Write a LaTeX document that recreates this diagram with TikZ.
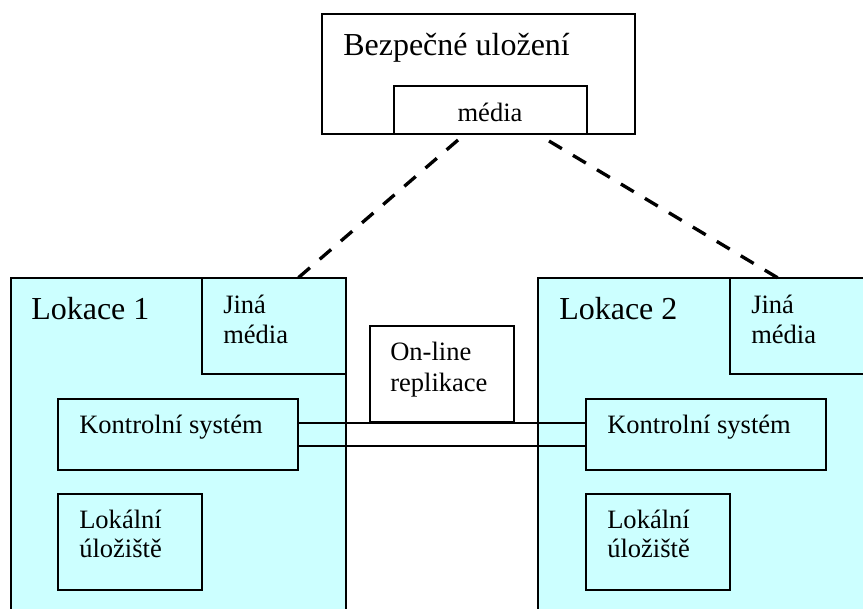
\documentclass[tikz,border=0pt]{standalone}
\usepackage{fontspec}
\setmainfont{Liberation Serif}
\usetikzlibrary{fit,calc}
\definecolor{sitefill}{HTML}{CCFFFF}
\tikzset{
  frame/.style={draw=black, line width=0.9pt, inner sep=0pt, outer sep=0pt},
  sitebox/.style={frame, fill=sitefill},
  plainbox/.style={frame, fill=white},
  bigtext/.style={anchor=base west, inner sep=0pt, font=\fontsize{24}{28}\selectfont},
  smalltext/.style={anchor=base west, inner sep=0pt, font=\fontsize{19.9}{23}\selectfont},
  offsite/.style={line width=2.5pt, dash pattern=on 11.25pt off 9.7pt},
  link/.style={draw=black, line width=0.9pt}
}
\begin{document}
\begin{tikzpicture}[x=0.75pt, y=-0.75pt]
\clip (0,0) rectangle (863,608);
\fill[white] (0,0) rectangle (863,608);

% secure storage at the top
\node[plainbox, fit={(322,14) (635,134)}] (safe) {};
\node[plainbox, fit={(394,86) (587,134)}] (safemedia) {};
\node[bigtext] (safelbl) at (343,55) {Bezpečné uložení};
\node[smalltext, anchor=base] (safemedialbl) at (490,121) {média};

% site 1
\node[sitebox, fit={(11,278) (346,625)}] (site1) {};
\node[sitebox, fit={(202,278) (346,374)}] (other1) {};
\node[sitebox, fit={(58,399) (298,470)}] (ctrl1) {};
\node[sitebox, fit={(58,494) (202,590)}] (local1) {};
\node[bigtext] (site1lbl) at (31,319) {Lokace 1};
\node[smalltext] (other1a) at (223,313) {Jiná};
\node[smalltext] (other1b) at (223,343) {média};
\node[smalltext] (ctrl1lbl) at (79,433) {Kontrolní systém};
\node[smalltext] (local1a) at (79,528) {Lokální};
\node[smalltext] (local1b) at (79,557) {úložiště};

% site 2
\node[sitebox, fit={(538,278) (885,625)}] (site2) {};
\node[sitebox, fit={(730,278) (885,374)}] (other2) {};
\node[sitebox, fit={(586,399) (826,470)}] (ctrl2) {};
\node[sitebox, fit={(586,494) (730,590)}] (local2) {};
\node[bigtext] (site2lbl) at (559,319) {Lokace 2};
\node[smalltext] (other2a) at (751,313) {Jiná};
\node[smalltext] (other2b) at (751,343) {média};
\node[smalltext] (ctrl2lbl) at (607,433) {Kontrolní systém};
\node[smalltext] (local2a) at (607,528) {Lokální};
\node[smalltext] (local2b) at (607,557) {úložiště};

% replication between the sites
\node[plainbox, fit={(370,326) (514,422)}] (repl) {};
\node[smalltext] (repla) at (390,360) {On-line};
\node[smalltext] (replb) at (390,391) {replikace};
\draw[link] ([yshift=8.6pt]ctrl1.east) -- ([yshift=8.6pt]ctrl2.west);
\draw[link] ([yshift=-8.6pt]ctrl1.east) -- ([yshift=-8.6pt]ctrl2.west);

% transport of media to the secure storage
\draw[offsite] ($(safemedia.south west)+(64,6)$) -- ($(other1.north west)+(96,0)$);
\draw[offsite] ($(safemedia.south east)+(-38,7)$) -- ($(other2.north west)+(48,0)$);
\end{tikzpicture}
\end{document}
